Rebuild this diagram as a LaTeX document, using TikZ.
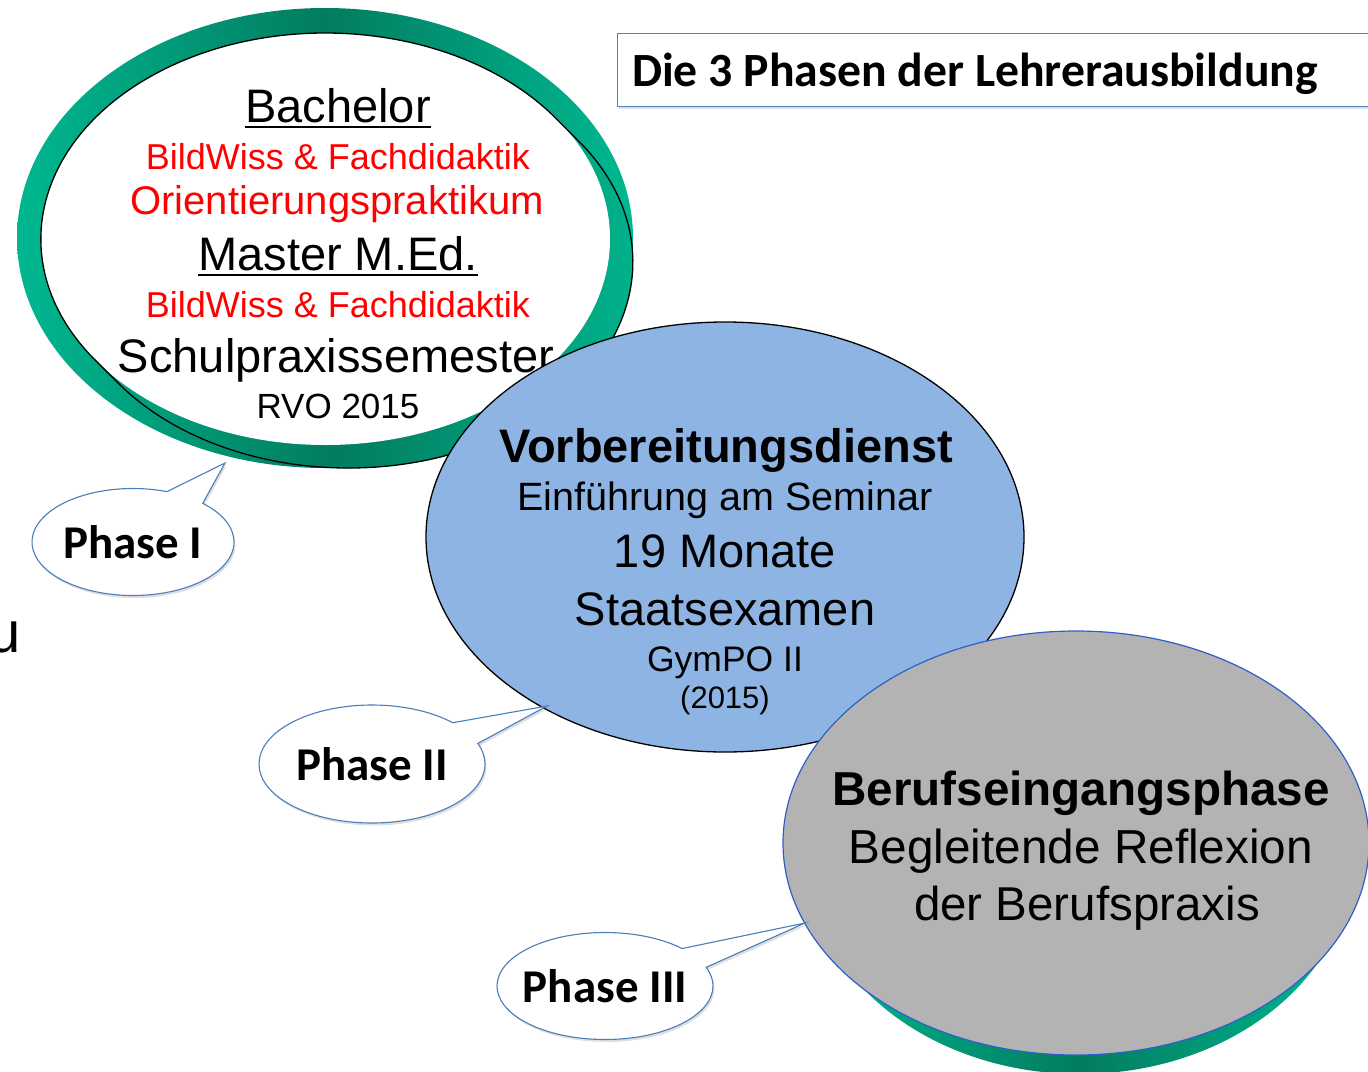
\documentclass[tikz,border=0pt]{standalone}
\usepackage{fontspec}
\setmainfont{Liberation Sans}
\newfontfamily\calibri{Carlito}
\usetikzlibrary{shapes.geometric,shapes.callouts,shadows}
\definecolor{ringlight}{HTML}{00B890}
\definecolor{ringdark}{HTML}{027C60}
\definecolor{bluefill}{HTML}{8EB4E3}
\definecolor{greyfill}{HTML}{B3B3B3}
\definecolor{greyline}{HTML}{2E5FC8}
\definecolor{callline}{HTML}{4A7EBB}
\definecolor{titleline}{HTML}{4F81BD}
\definecolor{redtext}{HTML}{FF0000}
\newcommand\fsz[1]{\fontsize{#1}{#1}\selectfont}
\newcommand\rimpath{(94.9,359.8) arc[start angle=144.1, end angle=324.1, x radius=284.5, y radius=206] -- ++(23,23) arc[start angle=-35.9, end angle=144.1, x radius=284.5, y radius=206] -- cycle}
\begin{document}
\begin{tikzpicture}[x=1pt,y=-1pt,
  txt/.style={inner sep=0pt, anchor=base},
  ringshade/.style={left color=ringlight, right color=ringlight, middle color=ringdark},
  ring/.style={ellipse, inner sep=0pt, ringshade},
  bigell/.style={ellipse, inner sep=0pt, line width=1.3pt},
  ulined/.style={line width=2.3pt},
  phasebubble/.style={ellipse callout, draw=callline, line width=1.1pt, fill=white, inner sep=0pt,
     inner xsep=-20pt, callout pointer arc=24, font=\calibri\bfseries\fsz{47},
     drop shadow={opacity=0.25, shadow xshift=1.5pt, shadow yshift=-2.5pt}},
  titlebox/.style={draw=titleline, line width=1.2pt, fill=white, inner sep=0pt,
     drop shadow={opacity=0.25, shadow xshift=1.5pt, shadow yshift=-2.5pt}}
]
\clip (0,0) rectangle (1368,1071);

% Phase I ellipse: green bevel, slanted disc with white face
\node[ring, minimum width=616pt, minimum height=460pt] (ring1) at (325,238) {};
\path[ringshade] \rimpath;
\node[bigell, fill=white, minimum width=569pt, minimum height=412pt] (bach) at (325.5,239) {};
\draw[line width=1.3pt] \rimpath;
\node[txt] (t1) at (338,122) {\fsz{47}Bachelor};
\draw[ulined] ([yshift=-5pt]t1.base west) -- ([yshift=-5pt]t1.base east);
\node[txt, text=redtext] (t2) at (338,169) {\fsz{36}BildWiss \& Fachdidaktik};
\node[txt, text=redtext] (t3) at (337,214) {\fsz{40}Orientierungspraktikum};
\node[txt] (t4) at (338,270) {\fsz{47}Master M.Ed.};
\draw[ulined] ([yshift=-5pt]t4.base west) -- ([yshift=-5pt]t4.base east);
\node[txt, text=redtext] (t5) at (338,317) {\fsz{36}BildWiss \& Fachdidaktik};
\node[txt] (t6) at (336,372) {\fsz{47}Schulpraxissemester};
\node[txt] (t7) at (338,418) {\fsz{35}RVO 2015};

% Phase II ellipse
\node[bigell, draw=black, fill=bluefill, minimum width=598pt, minimum height=430pt] (vd) at (725,537) {};
\node[txt] (v1) at (726,462) {\fsz{47}\bfseries Vorbereitungsdienst};
\node[txt] (v2) at (725,510) {\fsz{39.5}Einführung am Seminar};
\node[txt] (v3) at (725,567) {\fsz{47}19 Monate};
\node[txt] (v4) at (725,625) {\fsz{47}Staatsexamen};
\node[txt] (v5) at (725,671) {\fsz{35.5}GymPO II};
\node[txt] (v6) at (725,708) {\fsz{31}(2015)};

% Phase III ellipse
\node[ring, minimum width=544pt, minimum height=432pt] (ring3) at (1080,858) {};
\node[bigell, draw=greyline, line width=1.2pt, fill=greyfill, minimum width=586pt, minimum height=424pt] (bp) at (1076,843) {};
\node[txt] (b1) at (1081,805) {\fsz{47.6}\bfseries Berufseingangsphase};
\node[txt] (b2) at (1081,863) {\fsz{47.7}Begleitende Reflexion};
\node[txt] (b3) at (1087,920) {\fsz{47.5}der Berufspraxis};

% title
\node[titlebox, anchor=north west, minimum width=780pt, minimum height=73pt] (tbox) at (617,33) {};
\node[anchor=base west, inner sep=0pt] (ttl) at (632,86) {\calibri\bfseries\fsz{47.7}Die 3 Phasen der Lehrerausbildung};

% stray letter at left edge
\node[anchor=base east, inner sep=0pt] (uchar) at (21,652) {\fsz{58}u};

% callouts
\coordinate (p1) at (225,463);
\coordinate (p2) at (547,706);
\coordinate (p3) at (805,923);
\node[phasebubble, callout absolute pointer={(p1)}, minimum width=202pt, minimum height=107pt] (ph1) at (133,542) {Phase I};
\node[phasebubble, callout absolute pointer={(p2)}, minimum width=226pt, minimum height=118pt] (ph2) at (372,764) {Phase II};
\node[phasebubble, callout absolute pointer={(p3)}, minimum width=216pt, minimum height=107pt] (ph3) at (605,986) {Phase III};
\end{tikzpicture}
\end{document}
